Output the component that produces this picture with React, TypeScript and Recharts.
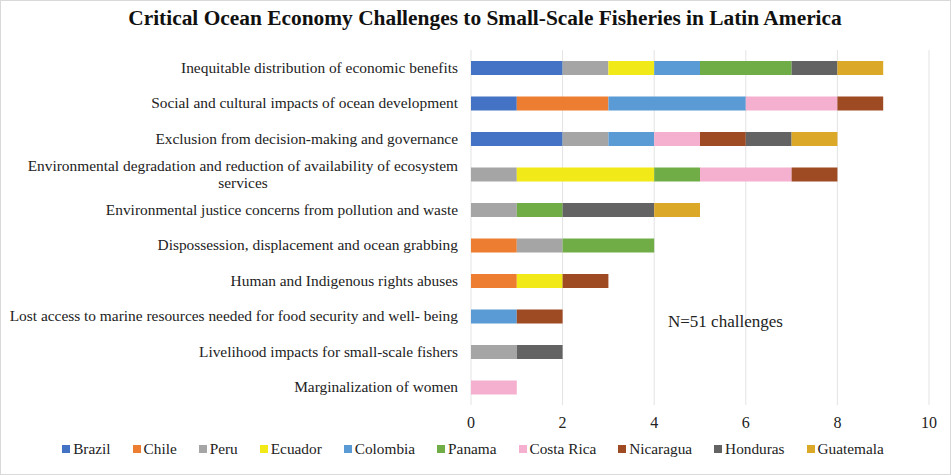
import React from 'react';
import { BarChart, Bar, XAxis, YAxis, CartesianGrid } from 'recharts';

const challenges = [
  'Inequitable distribution of economic benefits',
  'Social and cultural impacts of ocean development',
  'Exclusion from decision-making and governance',
  'Environmental degradation and reduction of availability of ecosystem services',
  'Environmental justice concerns from pollution and waste',
  'Dispossession, displacement and ocean grabbing',
  'Human and Indigenous rights abuses',
  'Lost access to marine resources needed for food security and well- being',
  'Livelihood impacts for small-scale fishers',
  'Marginalization of women',
];

const countries = ['Brazil', 'Chile', 'Peru', 'Ecuador', 'Colombia', 'Panama', 'Costa Rica', 'Nicaragua', 'Honduras', 'Guatemala'];

const colors = ['#4472C4', '#ED7D31', '#A5A5A5', '#F2EA18', '#5B9BD5', '#70AD47', '#F4B0CE', '#9E4A23', '#636363', '#DCA828'];

// counts per challenge, same order as challenges
const brazil = [2, 1, 2, 0, 0, 0, 0, 0, 0, 0];
const chile = [0, 2, 0, 0, 0, 1, 1, 0, 0, 0];
const peru = [1, 0, 1, 1, 1, 1, 0, 0, 1, 0];
const ecuador = [1, 0, 0, 3, 0, 0, 1, 0, 0, 0];
const colombia = [1, 3, 1, 0, 0, 0, 0, 1, 0, 0];
const panama = [2, 0, 0, 1, 1, 2, 0, 0, 0, 0];
const costaRica = [0, 2, 1, 2, 0, 0, 0, 0, 0, 1];
const nicaragua = [0, 1, 1, 1, 0, 0, 1, 1, 0, 0];
const honduras = [1, 0, 1, 0, 2, 0, 0, 0, 1, 0];
const guatemala = [1, 0, 1, 0, 1, 0, 0, 0, 0, 0];

const xTicks = [0, 2, 4, 6, 8, 10];

const series = [brazil, chile, peru, ecuador, colombia, panama, costaRica, nicaragua, honduras, guatemala];

const data = challenges.map((name, i) => {
  const row: any = { name };
  countries.forEach((c, j) => {
    row[c] = series[j][i];
  });
  return row;
});

const FONT = '"Liberation Serif", "Times New Roman", serif';
const LABEL_SIZE = 15.4;

const CategoryTick = (props: any) => {
  const { x, y, payload } = props;
  const label: string = payload.value;
  if (label.startsWith('Environmental degradation')) {
    // wrapped label, second line centred under the first
    return (
      <g>
        <text x={x} y={y - 8} dy={5} textAnchor="end" fontSize={LABEL_SIZE} fontFamily={FONT} fill="#222">
          Environmental degradation and reduction of availability of ecosystem
        </text>
        <text x={x - 215} y={y + 9} dy={5} textAnchor="middle" fontSize={LABEL_SIZE} fontFamily={FONT} fill="#222">
          services
        </text>
      </g>
    );
  }
  return (
    <text x={x} y={y} dy={5} textAnchor="end" fontSize={LABEL_SIZE} fontFamily={FONT} fill="#222">
      {label}
    </text>
  );
};

export default function App() {
  return (
    <div
      style={{
        position: 'absolute',
        left: 0,
        top: 0,
        width: 949,
        height: 473,
        background: '#fff',
        border: '1px solid #d9d9d9',
        fontFamily: FONT,
      }}
    >
      <div
        style={{
          position: 'absolute',
          top: 5,
          left: 20,
          width: 928,
          textAlign: 'center',
          fontSize: 21.4,
          fontWeight: 'bold',
          color: '#111',
        }}
      >
        Critical Ocean Economy Challenges to Small-Scale Fisheries in Latin America
      </div>

      <BarChart
        width={949}
        height={473}
        data={data}
        layout="vertical"
        margin={{ top: 49, right: 21, bottom: 39, left: 0 }}
        barSize={14}
      >
        <CartesianGrid horizontal={false} stroke="#e3e3e3" />
        <XAxis
          type="number"
          domain={[0, 10]}
          ticks={xTicks}
          axisLine={false}
          tickLine={false}
          tickMargin={6}
          height={30}
          tick={{ fontSize: 16, fontFamily: FONT, fill: '#222' }}
        />
        <YAxis
          type="category"
          dataKey="name"
          width={470}
          axisLine={false}
          tickLine={false}
          tick={<CategoryTick />}
          tickMargin={7}
        />
        {countries.map((c, i) => (
          <Bar key={c} dataKey={c} stackId="a" fill={colors[i]} isAnimationActive={false} />
        ))}
      </BarChart>

      <div
        style={{
          position: 'absolute',
          left: 667,
          top: 311,
          fontSize: 17,
          color: '#222',
        }}
      >
        N=51 challenges
      </div>

      <div
        style={{
          position: 'absolute',
          top: 439,
          left: 0,
          width: 944,
          display: 'flex',
          justifyContent: 'center',
          gap: 22,
          fontSize: 15.3,
          color: '#222',
        }}
      >
        {countries.map((c, i) => (
          <div key={c} style={{ display: 'flex', alignItems: 'center' }}>
            <span style={{ display: 'inline-block', width: 8, height: 8, background: colors[i], marginRight: 3 }} />
            {c}
          </div>
        ))}
      </div>
    </div>
  );
}
